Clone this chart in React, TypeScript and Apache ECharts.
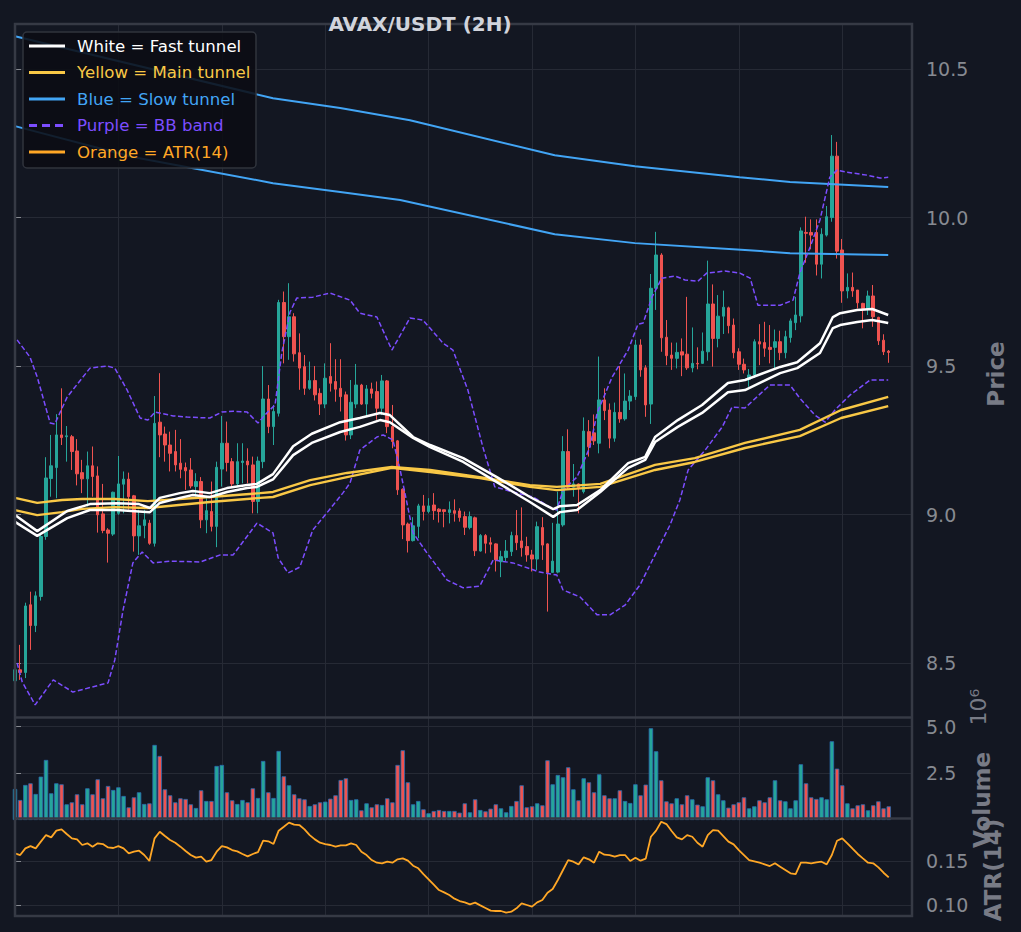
import React, { useEffect, useRef } from 'react';
import * as echarts from 'echarts';

// ---- candle data (index 0..169) ----
const OPEN = [8.44,8.477,8.468,8.696,8.626,8.724,8.926,9.121,9.158,9.268,9.262,9.262,9.214,9.141,9.12,9.164,9.13,9.002,8.948,8.934,9.004,9.102,9.119,9.063,8.928,8.963,8.971,8.903,9.311,9.271,9.234,9.212,9.173,9.158,9.15,9.094,9.111,8.982,9.01,8.96,9.153,9.24,9.178,9.103,9.175,9.18,9.167,9.044,9.178,9.389,9.296,9.341,9.714,9.599,9.666,9.545,9.498,9.425,9.451,9.408,9.372,9.465,9.448,9.425,9.403,9.268,9.372,9.436,9.372,9.423,9.414,9.358,9.45,9.296,9.248,9.085,8.968,8.912,8.96,9.029,9.01,9.032,9.018,9.016,9.007,9.013,9.012,8.993,8.956,8.989,8.877,8.929,8.905,8.901,8.841,8.855,8.875,8.929,8.911,8.892,8.864,8.85,8.956,8.901,8.805,8.806,8.965,9.212,9.092,9.103,9.077,9.279,9.275,9.24,9.386,9.352,9.257,9.344,9.322,9.382,9.397,9.571,9.494,9.372,9.762,9.874,9.597,9.537,9.526,9.548,9.54,9.494,9.509,9.509,9.548,9.709,9.593,9.668,9.696,9.638,9.548,9.506,9.455,9.47,9.582,9.579,9.563,9.563,9.582,9.545,9.596,9.646,9.669,9.95,9.95,9.95,9.843,9.941,10.0,10.207,9.891,9.753,9.765,9.756,9.711,9.694,9.736,9.664,9.587,9.55];
const HIGH = [8.5,8.561,8.703,8.74,8.741,8.937,9.193,9.268,9.338,9.425,9.298,9.268,9.254,9.184,9.212,9.229,9.162,9.103,8.954,9.077,9.197,9.145,9.141,9.066,9.016,9.016,8.982,9.399,9.476,9.296,9.279,9.285,9.254,9.175,9.19,9.139,9.126,9.055,9.111,9.178,9.332,9.313,9.19,9.24,9.24,9.223,9.195,9.195,9.5,9.436,9.369,9.723,9.751,9.779,9.678,9.61,9.537,9.515,9.5,9.425,9.509,9.577,9.523,9.523,9.414,9.453,9.507,9.44,9.436,9.444,9.448,9.47,9.453,9.369,9.251,9.088,8.973,8.991,9.036,9.066,9.055,9.072,9.021,9.016,9.044,9.051,9.021,9.01,9.01,8.993,8.934,8.934,8.923,8.903,8.878,8.914,8.942,9.015,9.024,8.925,8.881,8.976,8.991,8.903,8.972,9.077,9.264,9.287,9.17,9.105,9.327,9.318,9.337,9.532,9.425,9.374,9.377,9.5,9.475,9.419,9.588,9.59,9.503,9.81,9.952,9.88,9.655,9.579,9.579,9.593,9.733,9.63,9.563,9.613,9.855,9.775,9.739,9.754,9.7,9.66,9.56,9.525,9.49,9.59,9.641,9.649,9.638,9.623,9.619,9.619,9.66,9.733,9.967,10.003,9.994,9.994,9.964,10.039,10.278,10.255,9.928,9.812,9.815,9.756,9.713,9.754,9.773,9.666,9.607,9.554];
const LOW = [8.43,8.443,8.449,8.544,8.604,8.71,8.915,9.06,9.055,9.234,9.178,9.15,9.098,9.072,9.027,9.06,8.939,8.937,8.838,8.928,8.999,9.004,9.016,8.875,8.864,8.92,8.898,8.892,9.193,9.178,9.145,9.145,9.122,9.083,9.088,9.06,8.954,8.937,8.943,8.89,9.094,9.145,9.094,9.094,9.105,9.105,9.004,9.004,9.156,9.274,9.234,9.33,9.509,9.521,9.515,9.42,9.403,9.42,9.384,9.335,9.358,9.414,9.38,9.347,9.249,9.254,9.358,9.369,9.33,9.391,9.319,9.335,9.274,9.223,9.066,8.917,8.872,8.909,8.92,8.98,9.004,8.982,8.973,8.957,8.97,8.976,8.976,8.931,8.95,8.86,8.875,8.869,8.872,8.808,8.789,8.841,8.86,8.88,8.858,8.841,8.808,8.813,8.847,8.673,8.804,8.802,8.959,9.083,9.06,9.004,9.071,9.195,9.234,9.206,9.318,9.223,9.245,9.309,9.316,9.352,9.386,9.464,9.329,9.305,9.689,9.548,9.503,9.487,9.492,9.466,9.487,9.479,9.489,9.507,9.518,9.498,9.563,9.608,9.61,9.526,9.487,9.475,9.43,9.46,9.503,9.531,9.509,9.487,9.52,9.526,9.579,9.621,9.647,9.848,9.893,9.805,9.795,9.936,9.986,9.862,9.713,9.728,9.733,9.694,9.627,9.672,9.632,9.571,9.537,9.511];
const CLOSE = [8.477,8.468,8.692,8.626,8.726,8.926,9.123,9.164,9.268,9.259,9.265,9.212,9.137,9.12,9.164,9.128,8.999,8.946,8.937,9.075,9.103,9.119,9.06,8.928,8.962,8.982,8.903,9.307,9.268,9.234,9.206,9.167,9.152,9.147,9.096,9.111,8.982,9.013,8.96,9.159,9.24,9.175,9.103,9.178,9.18,9.167,9.044,9.18,9.389,9.296,9.347,9.714,9.599,9.666,9.541,9.493,9.425,9.451,9.403,9.372,9.459,9.442,9.422,9.397,9.268,9.378,9.436,9.372,9.423,9.408,9.358,9.45,9.296,9.246,9.083,8.965,8.912,8.962,9.029,9.01,9.029,9.013,9.01,9.01,9.016,9.004,8.99,8.957,8.993,8.878,8.929,8.903,8.9,8.847,8.858,8.877,8.929,8.905,8.888,8.864,8.85,8.959,8.897,8.805,8.843,8.968,9.212,9.092,9.103,9.09,9.281,9.228,9.248,9.386,9.35,9.257,9.344,9.322,9.382,9.399,9.571,9.487,9.369,9.762,9.874,9.595,9.535,9.526,9.546,9.537,9.494,9.509,9.507,9.55,9.709,9.593,9.668,9.698,9.636,9.545,9.506,9.487,9.47,9.582,9.574,9.56,9.556,9.582,9.545,9.599,9.652,9.672,9.955,9.947,9.941,9.843,9.944,10.003,10.207,9.887,9.753,9.765,9.753,9.713,9.694,9.736,9.666,9.585,9.548,9.546];
const VOLUME = [1.663,1.073,1.878,1.967,1.395,2.325,3.219,1.431,1.967,1.914,0.841,0.948,1.377,0.841,1.699,1.377,2.182,1.163,1.824,1.61,1.753,1.288,0.68,1.216,1.485,0.859,0.894,4.024,3.434,1.646,1.324,0.948,1.163,1.127,0.841,0.644,1.592,1.019,1.019,2.897,2.951,1.485,1.055,0.859,1.073,0.948,1.699,1.181,3.165,1.485,1.181,3.702,2.343,1.86,1.377,1.163,1.109,0.751,0.841,0.948,0.984,1.145,1.324,2.146,2.236,1.073,1.109,0.519,0.894,0.68,0.841,0.806,1.163,0.948,2.951,3.738,2.021,0.841,1.019,0.573,0.361,0.483,0.537,0.483,0.483,0.483,0.394,0.894,0.412,1.109,0.537,0.465,0.608,0.841,0.626,0.412,0.751,1.019,1.86,0.68,0.734,0.894,0.787,3.201,1.914,2.414,2.289,2.826,1.646,1.055,2.236,2.021,1.485,2.45,1.324,1.163,1.163,1.592,1.019,0.912,1.914,1.324,1.896,4.918,3.684,2.128,1.001,0.894,1.163,0.841,1.324,1.109,0.823,0.734,2.289,2.128,1.377,1.055,0.662,0.841,0.948,1.216,0.626,0.734,1.055,0.948,1.216,2.128,1.055,1.001,0.626,1.055,2.987,1.967,1.216,1.127,1.216,1.109,4.22,2.754,1.86,0.894,0.626,0.787,0.841,0.519,0.787,1.001,0.626,0.734];
const ATR = [0.1587,0.1568,0.1644,0.167,0.1644,0.172,0.1795,0.1769,0.1845,0.186,0.1807,0.1758,0.1746,0.1682,0.1701,0.1663,0.1701,0.1693,0.1655,0.1648,0.167,0.1644,0.1587,0.1606,0.1617,0.1568,0.15,0.1758,0.1833,0.1784,0.1739,0.1708,0.1663,0.1614,0.1568,0.1538,0.1549,0.1492,0.1511,0.1606,0.167,0.1655,0.1625,0.161,0.158,0.1553,0.158,0.1602,0.1731,0.1724,0.1693,0.1845,0.189,0.1936,0.1913,0.1909,0.186,0.1795,0.1746,0.1708,0.1693,0.1682,0.1663,0.1678,0.1678,0.1701,0.1682,0.1606,0.1568,0.1511,0.1481,0.1474,0.1492,0.1481,0.1519,0.153,0.1504,0.1447,0.1417,0.1352,0.1292,0.1231,0.117,0.1144,0.1114,0.1072,0.1045,0.103,0.1008,0.1027,0.0996,0.0966,0.0936,0.0932,0.0932,0.0913,0.0924,0.0962,0.1019,0.1,0.0981,0.103,0.1057,0.114,0.1182,0.1284,0.1398,0.1511,0.1492,0.1462,0.1542,0.1519,0.1481,0.1606,0.1572,0.1568,0.1549,0.1568,0.1568,0.15,0.1538,0.1504,0.1527,0.1776,0.1845,0.1947,0.192,0.1841,0.1769,0.1746,0.1795,0.1776,0.1708,0.1663,0.1795,0.1852,0.1845,0.1784,0.172,0.1689,0.1625,0.1568,0.1511,0.1496,0.1481,0.1462,0.1443,0.1474,0.1436,0.1398,0.136,0.1352,0.1481,0.1481,0.1474,0.1485,0.1492,0.1462,0.1568,0.1731,0.1758,0.1701,0.164,0.158,0.153,0.1481,0.1474,0.1428,0.1367,0.1314];

// ---- indicator lines, [candle index, price] ----
const FAST_UPPER = [[0,8.998],[4.3,8.944],[10.1,9.012],[14.5,9.035],[19.7,9.038],[24,9.035],[26.1,9.022],[28,9.056],[31.9,9.072],[34.4,9.079],[37.7,9.072],[41,9.089],[44.9,9.099],[46.8,9.103],[49.9,9.136],[53.8,9.23],[57.4,9.272],[62.9,9.311],[66.7,9.325],[70.6,9.342],[72.5,9.335],[77,9.261],[80.3,9.234],[86.7,9.19],[93.2,9.126],[99.6,9.059],[104.1,9.018],[105.4,9.028],[108.7,9.032],[113.2,9.082],[118.6,9.173],[121.9,9.194],[123.8,9.261],[128.2,9.318],[132.9,9.369],[137.9,9.443],[141.2,9.453],[148,9.497],[151.3,9.513],[155.7,9.577],[158.2,9.665],[159.6,9.678],[162.9,9.689],[165.8,9.692],[168.9,9.672]];
const FAST_LOWER = [[0,8.975],[4.3,8.928],[10.1,8.988],[14.5,9.015],[19.7,9.015],[26.1,9.008],[28,9.039],[31.9,9.056],[34.4,9.066],[37.7,9.059],[41,9.076],[44.9,9.089],[46.8,9.093],[49.9,9.118],[53.8,9.2],[57.4,9.241],[62.9,9.278],[66.7,9.295],[70.6,9.318],[72.5,9.311],[77,9.258],[80.3,9.227],[86.7,9.177],[93.2,9.109],[99.6,9.042],[104.1,8.992],[105.4,9.008],[108.7,9.015],[113.2,9.076],[118.6,9.157],[121.9,9.184],[123.8,9.244],[128.2,9.295],[132.9,9.342],[137.9,9.412],[141.2,9.419],[148,9.476],[151.3,9.493],[155.7,9.544],[158.2,9.628],[159.6,9.638],[162.9,9.648],[165.8,9.655],[168.9,9.645]];
const MAIN_UPPER = [[0,9.056],[4.3,9.039],[9.1,9.049],[13,9.052],[19.3,9.052],[25.7,9.045],[37.7,9.059],[47.4,9.072],[49.9,9.076],[57.1,9.116],[64.2,9.14],[72.9,9.16],[80.3,9.15],[89.9,9.126],[99.6,9.099],[104.8,9.093],[113.2,9.103],[123.8,9.167],[131.5,9.19],[141.2,9.241],[151.8,9.285],[159.8,9.352],[168.9,9.396]];
const MAIN_LOWER = [[0,9.015],[4.3,8.998],[9.1,9.008],[13,9.019],[19.3,9.025],[25.7,9.022],[37.7,9.042],[47.4,9.056],[49.9,9.059],[57.1,9.099],[64.2,9.126],[72.9,9.157],[80.3,9.143],[89.9,9.123],[99.6,9.093],[104.8,9.082],[113.2,9.093],[123.8,9.15],[131.5,9.177],[141.2,9.224],[151.8,9.264],[159.8,9.325],[168.9,9.365]];
const SLOW_UPPER = [[0,10.611],[49.9,10.402],[62.9,10.369],[76.4,10.328],[104.4,10.21],[119.9,10.173],[140.2,10.136],[149.9,10.12],[168.9,10.103]];
const SLOW_LOWER = [[0,10.308],[22.8,10.204],[49.9,10.116],[62.9,10.086],[74.5,10.059],[104.4,9.944],[119.9,9.914],[141.2,9.891],[149.9,9.88],[168.9,9.874]];
const BB_UPPER = [[0.4,9.588],[2.9,9.53],[4.3,9.463],[6.8,9.308],[7.7,9.305],[10.1,9.396],[14.5,9.493],[17.8,9.5],[19.3,9.493],[21.7,9.419],[24.2,9.325],[25.7,9.318],[27.1,9.345],[30.6,9.332],[33.3,9.328],[37.7,9.325],[40,9.345],[42.2,9.348],[44.9,9.345],[47,9.308],[48.7,9.342],[50.3,9.369],[51.6,9.544],[53.2,9.682],[54.5,9.729],[57.6,9.732],[60.9,9.746],[64.8,9.722],[66.7,9.678],[70,9.665],[72.9,9.554],[76.4,9.662],[78.9,9.655],[82.8,9.577],[84.7,9.554],[87.6,9.419],[90.5,9.227],[92.8,9.093],[96.3,9.076],[100.2,9.059],[103.5,9.025],[104.8,9.015],[106,9.082],[108.7,9.126],[111.2,9.227],[112.6,9.342],[115.5,9.463],[118.6,9.554],[120.5,9.641],[121.5,9.645],[123.2,9.732],[125.1,9.796],[127.7,9.803],[129.6,9.79],[132.1,9.786],[133.8,9.813],[137.3,9.82],[140.2,9.813],[142.2,9.796],[143.7,9.705],[148,9.705],[150.5,9.722],[151.8,9.813],[153.8,9.901],[155.7,9.992],[157.6,10.136],[159,10.16],[160.9,10.153],[164.8,10.143],[167.3,10.133],[168.9,10.136]];
const BB_LOWER = [[0.4,8.5],[1.4,8.436],[3.9,8.359],[7.4,8.443],[11.2,8.402],[18,8.433],[19.3,8.51],[20.9,8.678],[22.8,8.837],[24.6,8.874],[26.7,8.837],[30,8.843],[35.8,8.84],[39.7,8.864],[42.2,8.864],[46.8,8.971],[49.9,8.938],[50.9,8.854],[52.8,8.803],[55.1,8.823],[57.6,8.948],[60.3,9.005],[63.4,9.072],[64.8,9.106],[66.7,9.217],[70,9.261],[71.2,9.268],[73.1,9.251],[74.5,9.15],[77,8.938],[79.7,8.87],[83.6,8.779],[86.7,8.753],[89.9,8.759],[92.5,8.847],[96.3,8.837],[101.5,8.806],[104.8,8.796],[106,8.746],[109.3,8.722],[112.6,8.662],[115.1,8.662],[118,8.695],[120.9,8.763],[123.8,8.864],[126.7,8.965],[128.6,9.049],[130.2,9.15],[133.5,9.217],[136.8,9.295],[138.7,9.362],[141.2,9.359],[146,9.436],[149.9,9.436],[151.8,9.392],[154.7,9.335],[156.7,9.311],[158.6,9.352],[161.5,9.402],[165.4,9.453],[168.9,9.453]];

const PRICE_TICKS = [8.5, 9.0, 9.5, 10.0, 10.5];
const VOLUME_TICKS = [2.5, 5.0];
const ATR_TICKS = [0.1, 0.15];

const LEGEND = [
  { label: 'White = Fast tunnel', color: '#ffffff', dashed: false },
  { label: 'Yellow = Main tunnel', color: '#f9c846', dashed: false },
  { label: 'Blue = Slow tunnel', color: '#42a5f5', dashed: false },
  { label: 'Purple = BB band', color: '#7c4dff', dashed: true },
  { label: 'Orange = ATR(14)', color: '#ffa726', dashed: false },
];

const BG = '#131722';
const GRIDC = '#262a35';
const SPINE = '#363a45';
const LABEL = '#878a91';
const UP = '#26a69a';
const DOWN = '#ef5350';
const FONT = '"DejaVu Sans", sans-serif';

export default function App() {
  const ref = useRef<HTMLDivElement>(null);
  useEffect(() => {
    const chart = echarts.init(ref.current as HTMLDivElement, null, { renderer: 'svg' });
    const IDX = OPEN.map((_, i) => i);
    const grids = [
      { left: 15, top: 24, width: 897, height: 693 },
      { left: 15, top: 718, width: 897, height: 102 },
      { left: 15, top: 818, width: 897, height: 98 },
    ].map((g) => ({ ...g, show: false, containLabel: false, outerBoundsMode: 'none' }));

    const xAxis = [0, 1, 2].map((g) => ({
      type: 'value', gridIndex: g, min: 0, max: 173.5, interval: 20,
      axisLine: { show: false }, axisTick: { show: false }, axisLabel: { show: false },
      splitLine: { show: true, lineStyle: { color: GRIDC, width: 1 } },
    }));
    const yAx = (g: number, min: number, max: number, step: number, vals: number[], dec: number) => ({
      type: 'value', gridIndex: g, position: 'right', min, max, minInterval: step, maxInterval: step,
      axisLine: { show: false },
      axisTick: { show: true, length: 6, lineStyle: { color: LABEL, width: 1 }, customValues: vals },
      axisLabel: {
        show: true, color: LABEL, fontSize: 19, fontFamily: FONT, margin: 14, customValues: vals,
        hideOverlap: false,
        formatter: (v: number) => (vals.some((t) => Math.abs(t - v) < 1e-9) ? v.toFixed(dec) : ''),
      },
      splitLine: { show: true, lineStyle: { color: GRIDC, width: 1 } },
    });
    const yAxis = [
      yAx(0, 8.318, 10.652, 0.5, PRICE_TICKS, 1),
      yAx(1, 0, 5.467, 2.5, VOLUME_TICKS, 1),
      yAx(2, 0.0875, 0.1989, 0.05, ATR_TICKS, 2),
    ];
    const line = (data: number[][], color: string, width: number, dashed = false, g = 0) => ({
      type: 'line', xAxisIndex: g, yAxisIndex: g, data, showSymbol: false, symbol: 'none', smooth: false,
      lineStyle: { color, width, type: dashed ? [5, 2.5] : 'solid' }, z: 3, silent: true,
    });

    const graphic: any[] = [
      { type: 'rect', shape: { x: 15, y: 24, width: 897, height: 892 }, style: { fill: 'none', stroke: SPINE, lineWidth: 2.5 }, z: 100, silent: true },
      { type: 'line', shape: { x1: 15, y1: 717.5, x2: 912, y2: 717.5 }, style: { stroke: SPINE, lineWidth: 2.5 }, z: 100, silent: true },
      { type: 'line', shape: { x1: 15, y1: 818.5, x2: 912, y2: 818.5 }, style: { stroke: SPINE, lineWidth: 2.5 }, z: 100, silent: true },
      { type: 'text', x: 420, y: 24, z: 110, style: { text: 'AVAX/USDT (2H)', fill: '#d1d4dc', font: `bold 20px ${FONT}`, align: 'center', verticalAlign: 'middle', textAlign: 'center', textVerticalAlign: 'middle' } },
      { type: 'rect', shape: { x: 23, y: 32, width: 233, height: 136, r: 4 }, style: { fill: 'rgba(11,13,19,0.88)', stroke: '#30343d', lineWidth: 1.5 }, z: 105, silent: true },
    ];
    LEGEND.forEach((e, k) => {
      const y = 46 + k * 26.5;
      graphic.push({ type: 'line', shape: { x1: 29, y1: y, x2: 65, y2: y }, z: 106, silent: true, style: { stroke: e.color, lineWidth: 3, lineDash: e.dashed ? [8, 5] : null } });
      graphic.push({ type: 'text', x: 77, y, z: 106, silent: true, style: { text: e.label, fill: e.color, font: `16.6px ${FONT}`, align: 'left', verticalAlign: 'middle', textAlign: 'left', textVerticalAlign: 'middle' } });
    });
    const vtext = (text: string, x: number, y: number, font: string) => ({
      type: 'text', x, y, rotation: Math.PI / 2, z: 110, silent: true,
      style: { text, fill: '#787b86', font, align: 'center', verticalAlign: 'middle', textAlign: 'center', textVerticalAlign: 'middle' },
    });
    graphic.push(vtext('Price', 996, 374, `bold 23px ${FONT}`));
    graphic.push(vtext('Volume', 982, 800, `bold 23px ${FONT}`));
    graphic.push(vtext('ATR(14)', 993, 870, `bold 23px ${FONT}`));
    graphic.push(vtext('10⁶', 978, 707, `22px ${FONT}`));

    chart.setOption({
      animation: false,
      backgroundColor: BG,
      grid: grids,
      xAxis,
      yAxis,
      graphic,
      series: [
        {
          type: 'candlestick', xAxisIndex: 0, yAxisIndex: 0, z: 2, silent: true,
          data: IDX.map((i) => [i, OPEN[i], CLOSE[i], LOW[i], HIGH[i]]),
          encode: { x: 0, y: [1, 2, 3, 4] },
          barWidth: 3,
          itemStyle: { color: UP, color0: DOWN, borderColor: UP, borderColor0: DOWN, borderWidth: 1 },
        },
        line(SLOW_UPPER, '#42a5f5', 2),
        line(SLOW_LOWER, '#42a5f5', 2),
        line(BB_UPPER, '#7c4dff', 1.5, true),
        line(BB_LOWER, '#7c4dff', 1.5, true),
        line(MAIN_UPPER, '#f9c846', 2.4),
        line(MAIN_LOWER, '#f9c846', 2.4),
        line(FAST_UPPER, '#ffffff', 2.5),
        line(FAST_LOWER, '#ffffff', 2.5),
        {
          type: 'bar', xAxisIndex: 1, yAxisIndex: 1, barWidth: 4.4, silent: true,
          data: IDX.map((i) => ({ value: [i, VOLUME[i]], itemStyle: { color: CLOSE[i] >= OPEN[i] ? UP : DOWN } })),
          itemStyle: { borderColor: '#2b6cb0', borderWidth: 0.8 },
        },
        line(IDX.map((i) => [i, ATR[i]]), '#ffa726', 1.8, false, 2),
      ],
    });
    return () => chart.dispose();
  }, []);
  return <div ref={ref} style={{ position: 'fixed', left: 0, top: 0, width: 1021, height: 932, background: BG }} />;
}
